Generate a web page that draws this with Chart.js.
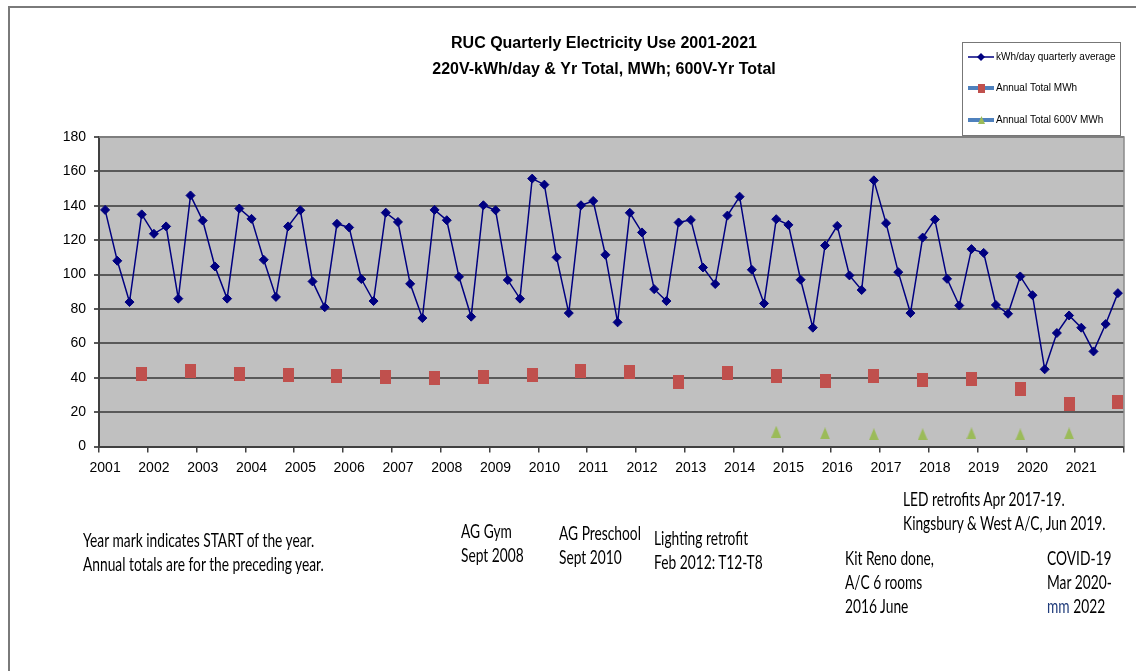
<!DOCTYPE html>
<html>
<head>
<meta charset="utf-8">
<title>RUC Quarterly Electricity Use 2001-2021</title>
<script src="https://cdn.jsdelivr.net/npm/chart.js@4"></script>
<style>
  body { margin: 0; background: #fff; }
  #contenitore { position: relative; width: 1136px; height: 671px; overflow: hidden; }
  #cornice { position: absolute; left: 8px; top: 6px; width: 1140px; height: 680px; border-left: 2px solid #7a7a7a; border-top: 2px solid #7a7a7a; }
  #grafico { position: absolute; left: 0; top: 0; }
  .nota { position: absolute; font-family: Lato, "Open Sans", sans-serif; font-size: 19px; line-height: 24px; color: #000; white-space: nowrap; transform: scaleX(0.725); transform-origin: 0 0; }
  .blu { color: #1f3b7a; }
</style>
</head>
<body>
<div id="contenitore">
  <div id="cornice"></div>
  <canvas id="grafico" width="1136" height="671"></canvas>

  <div class="nota" style="left:83px; top:528px">Year mark indicates START of the year.<br>Annual totals are for the preceding year.</div>
  <div class="nota" style="left:461px; top:519px">AG Gym<br>Sept 2008</div>
  <div class="nota" style="left:559px; top:521px">AG Preschool<br>Sept 2010</div>
  <div class="nota" style="left:654px; top:526px">Lighting retrofit<br>Feb 2012: T12-T8</div>
  <div class="nota" style="left:903px; top:487px">LED retrofits Apr 2017-19.<br>Kingsbury &amp; West A/C, Jun 2019.</div>
  <div class="nota" style="left:845px; top:546px">Kit Reno done,<br>A/C 6 rooms<br>2016 June</div>
  <div class="nota" style="left:1047px; top:546px">COVID-19<br>Mar 2020-<br><span class="blu">mm</span> 2022</div>
</div>

<script>
var anni = ['2001', '2002', '2003', '2004', '2005', '2006', '2007', '2008', '2009', '2010', '2011',
            '2012', '2013', '2014', '2015', '2016', '2017', '2018', '2019', '2020', '2021'];
var trimestri = ['Q1', 'Q2', 'Q3', 'Q4'];

// kWh/day, media trimestrale (4 valori per anno)
var kwhGiorno = [
    137.6, 108, 84, 135,
    123.7, 128, 86, 146,
    131.4, 104.7, 86, 138.4,
    132.4, 108.6, 87, 128,
    137.4, 96, 81, 129.5,
    127.4, 97.4, 84.6, 136,
    130.6, 94.6, 74.7, 137.6,
    131.6, 98.7, 75.5, 140.3,
    137.4, 96.8, 86, 155.8,
    152.3, 110, 77.6, 140.3,
    142.8, 111.5, 72.2, 135.9,
    124.5, 91.5, 84.6, 130.3,
    131.8, 104.1, 94.5, 134.3,
    145.3, 102.8, 83.2, 132.2,
    128.9, 97, 69.1, 116.9,
    128.3, 99.5, 91, 154.8,
    129.9, 101.4, 77.6, 121.5,
    132, 97.5, 82, 114.8,
    112.6, 82.3, 77.2, 98.9,
    88, 44.9, 66, 76.2,
    69.1, 55.3, 71.2, 89.2
];

// totale annuo MWh (segnato sul quarto trimestre)
var totaleAnnuo = [42.2, 43.7, 42.2, 41.6, 40.8, 40.3, 39.7, 40.6, 41.6, 43.7, 43.3,
                   37.4, 42.6, 41.2, 38.3, 41.2, 38.7, 39.3, 33.3, 24.8, 26];

var anni600V = ['2014', '2015', '2016', '2017', '2018', '2019', '2020'];
var totale600V = [8.6, 7.6, 7.1, 7.1, 7.6, 7.0, 7.6];

var etichette = [];
var serieAnnua = [];
var serie600V = [];
for (var i = 0; i < anni.length; i++) {
    for (var q = 0; q < 4; q++) {
        etichette.push(trimestri[q] + ' ' + anni[i]);
        serieAnnua.push(q === 3 ? totaleAnnuo[i] : null);
        var k = anni600V.indexOf(anni[i]);
        serie600V.push(q === 3 && k >= 0 ? totale600V[k] : null);
    }
}

function marcatore(w, h, colore, forma) {
    var c = document.createElement('canvas');
    c.width = w;
    c.height = h;
    var g = c.getContext('2d');
    g.fillStyle = colore;
    if (forma === 'triangolo') {
        g.beginPath();
        g.moveTo(w / 2, 0);
        g.lineTo(w, h);
        g.lineTo(0, h);
        g.closePath();
        g.fill();
    } else {
        g.fillRect(0, 0, w, h);
    }
    return c;
}

var quadratoRosso = marcatore(11, 14, '#c0504d');
var triangoloVerde = marcatore(10, 12, '#9bbb59', 'triangolo');

var decorazioni = {
    id: 'decorazioni',
    beforeDraw: function (chart) {
        var a = chart.chartArea;
        var ctx = chart.ctx;
        ctx.save();
        ctx.fillStyle = '#c0c0c0';
        ctx.fillRect(a.left, a.top, a.right - a.left, a.bottom - a.top);
        ctx.restore();
    },
    afterDraw: function (chart) {
        var a = chart.chartArea;
        var ctx = chart.ctx;
        ctx.save();

        // bordo destro e superiore del riquadro
        ctx.strokeStyle = '#8a8a8a';
        ctx.lineWidth = 1.5;
        ctx.beginPath();
        ctx.moveTo(a.left, a.top);
        ctx.lineTo(a.right, a.top);
        ctx.lineTo(a.right, a.bottom);
        ctx.stroke();

        // titolo
        ctx.fillStyle = '#000';
        ctx.font = 'bold 16px "Liberation Sans", Arial, sans-serif';
        ctx.textAlign = 'center';
        ctx.textBaseline = 'middle';
        ctx.fillText('RUC Quarterly Electricity Use 2001-2021', 604, 44);
        ctx.fillText('220V-kWh/day & Yr Total, MWh; 600V-Yr Total', 604, 70);

        // legenda
        ctx.fillStyle = '#fff';
        ctx.fillRect(962, 42, 158, 93);
        ctx.strokeStyle = '#777';
        ctx.lineWidth = 1;
        ctx.strokeRect(962.5, 42.5, 158, 93);

        var voci = [
            { testo: 'kWh/day quarterly average', y: 57 },
            { testo: 'Annual Total MWh', y: 88 },
            { testo: 'Annual Total 600V MWh', y: 120 }
        ];

        ctx.strokeStyle = '#000080';
        ctx.lineWidth = 1.5;
        ctx.beginPath();
        ctx.moveTo(968, voci[0].y);
        ctx.lineTo(994, voci[0].y);
        ctx.stroke();
        ctx.fillStyle = '#000080';
        ctx.beginPath();
        ctx.moveTo(981, voci[0].y - 4);
        ctx.lineTo(985, voci[0].y);
        ctx.lineTo(981, voci[0].y + 4);
        ctx.lineTo(977, voci[0].y);
        ctx.closePath();
        ctx.fill();

        ctx.strokeStyle = '#4f81bd';
        ctx.lineWidth = 4;
        for (var j = 1; j < 3; j++) {
            ctx.beginPath();
            ctx.moveTo(968, voci[j].y);
            ctx.lineTo(994, voci[j].y);
            ctx.stroke();
        }
        ctx.drawImage(marcatore(7, 9, '#c0504d'), 978, voci[1].y - 4.5);
        ctx.drawImage(marcatore(7, 8, '#9bbb59', 'triangolo'), 978, voci[2].y - 4);

        ctx.fillStyle = '#000';
        ctx.font = '10px "Liberation Sans", Arial, sans-serif';
        ctx.textAlign = 'left';
        for (var v = 0; v < voci.length; v++) {
            ctx.fillText(voci[v].testo, 996, voci[v].y);
        }
        ctx.restore();
    }
};

var ctx = document.getElementById('grafico');
var chart = new Chart(ctx, {
    type: 'line',
    data: {
        labels: etichette,
        datasets: [{
            label: 'kWh/day quarterly average',
            data: kwhGiorno,
            borderColor: '#000080',
            backgroundColor: '#000080',
            borderWidth: 1.5,
            pointStyle: 'rectRot',
            pointRadius: 4.5,
            pointBorderWidth: 1,
            tension: 0
        }, {
            label: 'Annual Total MWh',
            data: serieAnnua,
            showLine: false,
            pointStyle: quadratoRosso,
            backgroundColor: '#c0504d',
            borderColor: '#c0504d'
        }, {
            label: 'Annual Total 600V MWh',
            data: serie600V,
            showLine: false,
            pointStyle: triangoloVerde,
            backgroundColor: '#9bbb59',
            borderColor: '#9bbb59'
        }]
    },
    options: {
        responsive: false,
        animation: false,
        devicePixelRatio: 1,
        layout: {
            padding: { top: 137, left: 10, right: 12, bottom: 194.5 }
        },
        plugins: {
            legend: { display: false },
            title: { display: false },
            tooltip: { enabled: false }
        },
        scales: {
            x: {
                offset: true,
                afterFit: function (scala) { scala.height = 30; },
                grid: {
                    offset: true,
                    drawOnChartArea: false,
                    tickLength: 6,
                    lineWidth: 1.5,
                    color: function (c) {
                        return (c.index === undefined || c.index % 4 === 0) ? '#404040' : 'rgba(0,0,0,0)';
                    }
                },
                border: { display: true, color: '#404040', width: 2 },
                ticks: {
                    autoSkip: false,
                    maxRotation: 0,
                    minRotation: 0,
                    padding: 7,
                    color: '#000',
                    font: { family: '"Liberation Sans", Arial, sans-serif', size: 14 },
                    callback: function (val, i) {
                        return i % 4 === 0 ? anni[i / 4] : '';
                    }
                }
            },
            y: {
                min: 0,
                max: 180,
                afterFit: function (scala) { scala.width = 89; },
                grid: {
                    color: '#595959',
                    lineWidth: 2,
                    tickLength: 5
                },
                border: { display: true, color: '#404040', width: 2 },
                ticks: {
                    stepSize: 20,
                    padding: 8,
                    color: '#000',
                    font: { family: '"Liberation Sans", Arial, sans-serif', size: 14 }
                }
            }
        }
    },
    plugins: [decorazioni]
});
</script>
</body>
</html>
